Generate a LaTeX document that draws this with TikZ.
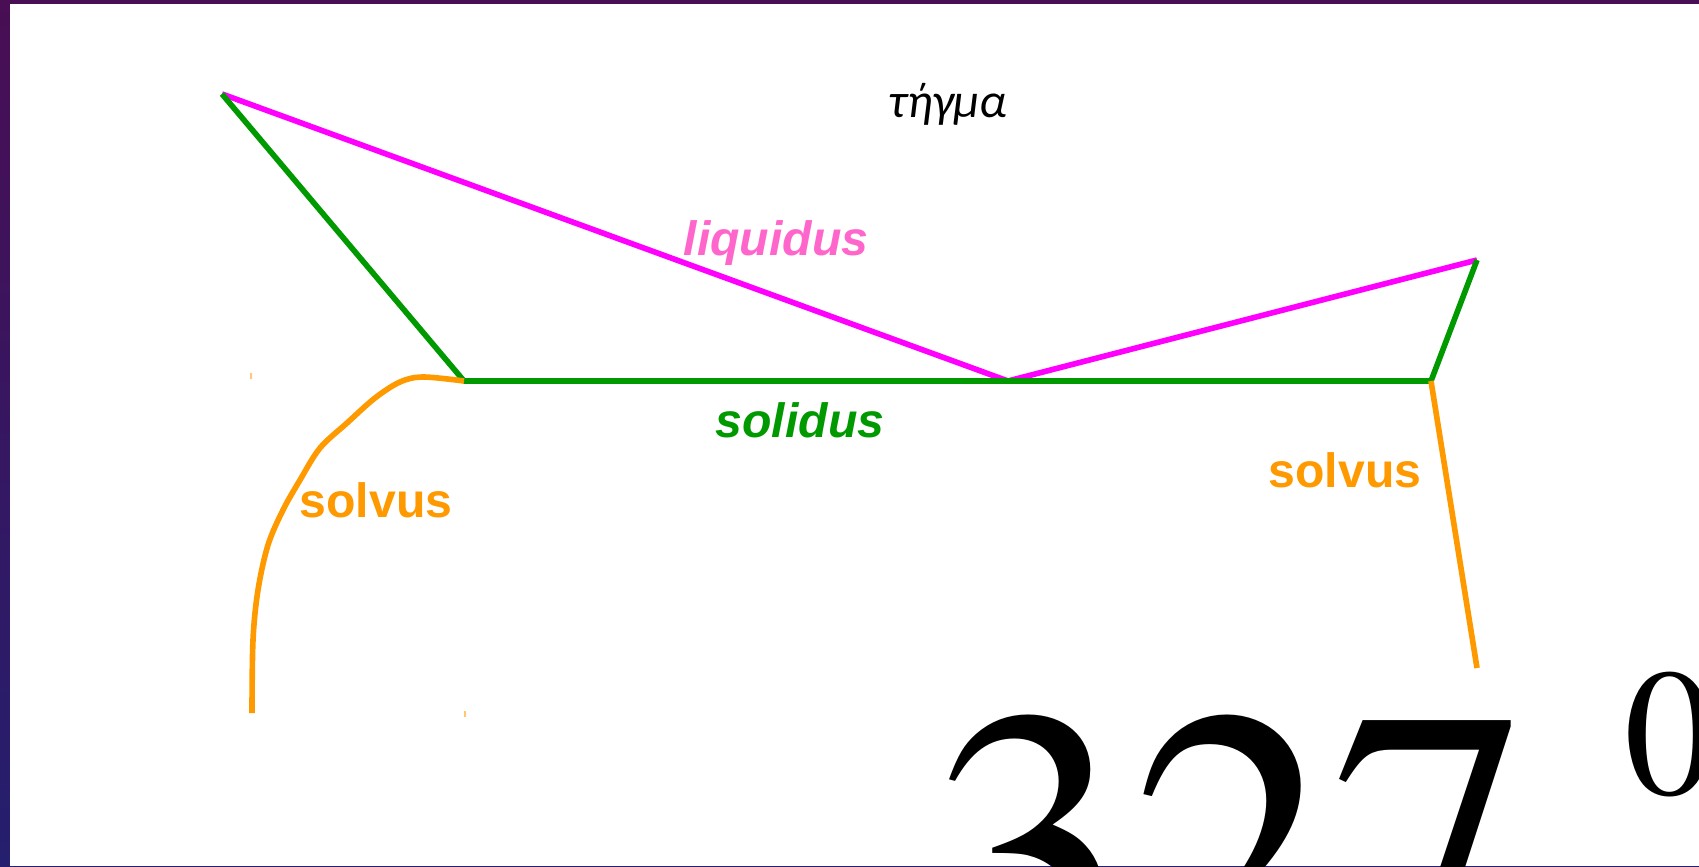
\documentclass[tikz,border=0pt]{standalone}
\usepackage{fontspec}
\setmainfont{Liberation Sans}
\newfontfamily\greekfont{Carlito}
\newfontfamily\timesfont{TeX Gyre Termes}
\usepackage{xcolor}
\usetikzlibrary{positioning}

\definecolor{liqmag}{RGB}{255,0,255}
\definecolor{solgreen}{RGB}{0,153,0}
\definecolor{solvorange}{RGB}{255,153,0}
\definecolor{liqpink}{RGB}{255,102,204}
\definecolor{framepurple}{RGB}{73,14,84}
\definecolor{framenavy}{RGB}{36,31,110}

\begin{document}
\begin{tikzpicture}[x=0.01cm, y=-0.01cm,
  curve/.style={line width=1.6pt, draw=#1, line join=round},
  lbl/.style={inner sep=0pt, anchor=base, text=#1,
    font=\fontsize{13.7}{16}\selectfont\bfseries},
  lbli/.style={lbl=#1, font=\fontsize{13.7}{16}\selectfont\bfseries\itshape},
  tick/.style={line width=0.5pt, draw=solvorange!55}
]
\useasboundingbox (0,0) rectangle (1699,866);
\clip (0,0) rectangle (1699,866);
\shade[top color=framepurple, bottom color=framenavy] (0,0) rectangle (1699,866);
\fill[white] (10,4) rectangle (1699,866);

% corners of the diagram
\coordinate (liqtop) at (222,94);
\coordinate (soll) at (464,381);
\coordinate (eut) at (1008,381);
\coordinate (solr) at (1431,381);
\coordinate (liqend) at (1477,260);
\coordinate (solvend) at (1477,668);
\coordinate (solvbase) at (252,713);

\draw[curve=liqmag] (liqtop) -- (eut) -- (liqend);
\draw[curve=solgreen] (liqtop) -- (soll) -- (solr) -- (liqend);
\draw[curve=solvorange] (solr) -- (solvend);
\draw[curve=solvorange] plot[smooth, tension=0.55] coordinates {(soll) (423,377)
  (400,382) (375,398) (347,423) (320,448) (300,480) (283,510) (268,545)
  (258,590) (253,640) (solvbase)};
\draw[tick] (251,373) -- (251,379);
\draw[tick] (465,711) -- (465,717);

\node[inner sep=0pt, anchor=base,
  font=\greekfont\itshape\fontsize{13.8}{16}\selectfont] (melt) at (948,117) {τήγμα};
\node[lbli=liqpink] (liq) at (776,255) {liquidus};
\node[lbli=solgreen] (sol) at (800,437) {solidus};
\node[lbl=solvorange] (solvl) at (376,517) {solvus};
\node[lbl=solvorange] (solvr) at (1345,487) {solvus};

\node[inner sep=0pt, anchor=base west,
  font=\timesfont\fontsize{113.8}{120}\selectfont] (temp) at (931,985) {327};
\node[inner sep=0pt, anchor=base west,
  font=\timesfont\fontsize{51.5}{55}\selectfont] (deg) at (1624,794) {0};
\end{tikzpicture}
\end{document}
